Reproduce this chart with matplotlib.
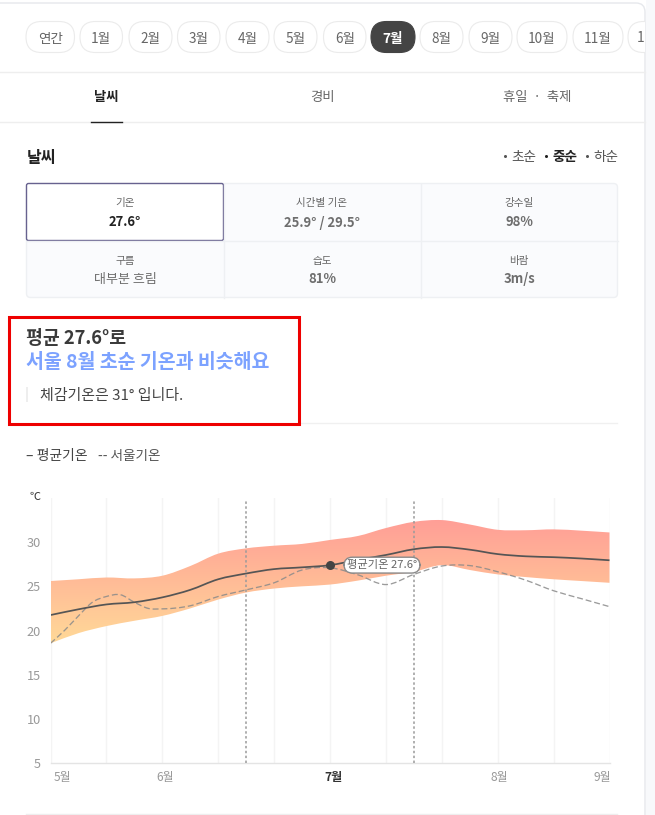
import numpy as np
import matplotlib
matplotlib.use("Agg")
import matplotlib.pyplot as plt
from matplotlib.path import Path
from matplotlib.patches import PathPatch, FancyBboxPatch, Rectangle
from matplotlib.transforms import ScaledTranslation
from matplotlib.colors import to_rgb

plt.rcParams['font.family'] = ['Noto Sans CJK KR', 'DejaVu Sans']

# ---- chart data ----
band_x = [0, .5, 1, 1.5, 2, 2.5, 3, 3.5, 4, 4.5, 5, 5.5, 6, 6.5, 7, 7.5, 8, 8.5, 9, 9.5, 10]
upper = [25.6, 25.8, 26.0, 25.9, 26.2, 27.3, 28.7, 29.3, 29.6, 29.8, 30.25, 30.7, 31.6, 32.3, 32.5, 32.0, 31.4, 31.35, 31.45, 31.3, 31.1]
lower = [18.55, 19.7, 20.5, 21.1, 21.65, 22.5, 23.5, 24.3, 24.75, 25.0, 25.2, 25.65, 26.2, 26.65, 27.4, 26.85, 26.35, 26.05, 25.8, 25.6, 25.4]
mean = [21.75, 22.4, 22.95, 23.2, 23.75, 24.6, 25.8, 26.45, 26.95, 27.15, 27.4, 28.0, 28.55, 29.2, 29.45, 29.15, 28.65, 28.4, 28.3, 28.15, 27.95]
seoul_x = [0, .25, .5, .75, 1, 1.25, 1.5, 1.75, 2, 2.5, 3, 3.5, 4, 4.5, 5, 5.5, 6, 6.5, 7, 7.5, 8, 8.5, 9, 9.5, 10]
seoul = [18.55, 20.0, 21.65, 23.2, 23.85, 24.05, 23.2, 22.5, 22.45, 22.8, 23.85, 24.6, 25.4, 26.85, 27.1, 26.3, 25.2, 26.35, 27.3, 27.35, 26.65, 25.7, 24.5, 23.6, 22.7]
month_pos = [0, 2, 5, 8, 10]
month_labels = ['5월', '6월', '7월', '8월', '9월']
y_ticks = [5, 10, 15, 20, 25, 30]
marker_x = 5
marker_y = 27.4
dashed_x = [3.5, 6.5]
tooltip = '평균기온 27.6°'

# ---- page content ----
tabs = ['연간', '1월', '2월', '3월', '4월', '5월', '6월', '7월', '8월', '9월', '10월', '11월']
tab_edges = [(26, 74.5), (80, 122.5), (129, 172), (177.5, 220), (226, 269), (274, 317), (323.5, 366),
             (371, 415), (420, 463), (469, 512), (517, 567), (573, 623)]
cells = [('기온', '27.6°'), ('시간별 기온', '25.9° / 29.5°'), ('강수일', '98%'),
         ('구름', '대부분 흐림'), ('습도', '81%'), ('바람', '3m/s')]


def smooth(x, y):
    """Bezier segments through the read values (the chart's own curve rendering)."""
    x, y = np.asarray(x, float), np.asarray(y, float)
    m = np.gradient(y, x)
    v = [(x[0], y[0])]
    for i in range(len(x) - 1):
        h = x[i + 1] - x[i]
        v += [(x[i] + h / 3, y[i] + m[i] * h / 3),
              (x[i + 1] - h / 3, y[i + 1] - m[i + 1] * h / 3),
              (x[i + 1], y[i + 1])]
    return v


def curve(x, y):
    v = smooth(x, y)
    return Path(v, [Path.MOVETO] + [Path.CURVE4] * (len(v) - 1))


fig = plt.figure(figsize=(6.55, 8.15), dpi=100, facecolor='white')
pg = fig.add_axes([0, 0, 1, 1])
pg.set_xlim(0, 655)
pg.set_ylim(815, 0)
pg.axis('off')

# card
pg.add_patch(Rectangle((645.5, 0), 10, 815, fc='#F8F9FB', ec='none'))
card = FancyBboxPatch((-30, 3), 675, 900, boxstyle='round,pad=0,rounding_size=9',
                      fc='white', ec='#E6E8EC', lw=1)
pg.add_patch(card)

# month pills
for name, (a, b) in zip(tabs, tab_edges):
    active = name == '7월'
    pg.add_patch(FancyBboxPatch((a, 21.5), b - a, 31, boxstyle='round,pad=0,rounding_size=15.5',
                                fc='#444444' if active else 'white',
                                ec='#444444' if active else '#EBEBEB', lw=0.8))
    pg.text((a + b) / 2, 38.5, name, ha='center', va='center',
            fontsize=9.8, color='white' if active else '#666666',
            fontweight='bold' if active else 'normal')
# the next pill runs off the card: only its left end and first digit show
last_pill = FancyBboxPatch((628, 21.5), 50, 31, boxstyle='round,pad=0,rounding_size=15.5',
                           fc='white', ec='#EBEBEB', lw=0.8)
pg.add_patch(last_pill)
last_pill.set_clip_path(Rectangle((0, 0), 645, 815, transform=pg.transData))
pg.text(641, 38.5, '1', ha='center', va='center', fontsize=9.8, color='#666666')

pg.plot([0, 645], [71.5, 71.5], color='#EEEEEE', lw=1)
pg.plot([0, 645], [121.5, 121.5], color='#EEEEEE', lw=1)
pg.plot([91, 122], [121.5, 121.5], color='#222222', lw=1)
pg.text(106.5, 97, '날씨', ha='center', va='center', fontsize=9.6, fontweight='bold', color='#222222')
pg.text(322, 97, '경비', ha='center', va='center', fontsize=9.6, color='#666666')
pg.text(537, 97, '휴일  ·  축제', ha='center', va='center', fontsize=9.6, color='#666666')

pg.text(26.5, 158, '날씨', ha='left', va='center', fontsize=11.5, fontweight='bold', color='#222222')
for x, s, w, c in [(505, '초순', 'normal', '#555555'), (546, '중순', 'bold', '#222222'), (587, '하순', 'normal', '#555555')]:
    pg.plot([x], [156], 'o', ms=2.2, color=c, mec='none')
    pg.text(x + 19, 156.5, s, ha='center', va='center', fontsize=9.8, fontweight=w, color=c)

# summary table
pg.add_patch(FancyBboxPatch((26.5, 183.5), 591, 114, boxstyle='round,pad=0,rounding_size=4',
                            fc='#FAFBFD', ec='#EEF0F3', lw=1))
pg.plot([223.5, 223.5], [183.5, 297.5], color='#EEF0F3', lw=1)
pg.plot([420.5, 420.5], [183.5, 297.5], color='#EEF0F3', lw=1)
pg.plot([26.5, 617.5], [240.5, 240.5], color='#EEF0F3', lw=1)
pg.add_patch(FancyBboxPatch((26.5, 183.5), 197, 57, boxstyle='round,pad=0,rounding_size=2',
                            fc='white', ec='#67628F', lw=1))
col_c = [125, 322, 519]
for i, (lab, val) in enumerate(cells):
    cx = col_c[i % 3]
    top = i < 3
    pg.text(cx, 203 if top else 261, lab, ha='center', va='center', fontsize=7.6, color='#666666')
    pg.text(cx, 222.5 if top else 279, val, ha='center', va='center',
            fontsize=9.4, color='#222222' if i == 0 else '#6E6E6E',
            fontweight='normal' if i == 3 else 'bold')

# highlighted text block
pg.plot([26, 617], [422.5, 422.5], color='#F0F0F0', lw=1)
pg.add_patch(Rectangle((8.5, 317), 290, 107, fc='white', ec='#EE0000', lw=2.2, zorder=3))
pg.text(26, 339, '평균 27.6°로', ha='left', va='center', fontsize=13.2, fontweight='bold', color='#3A3A3A', zorder=4)
pg.text(26, 362, '서울 8월 초순 기온과 비슷해요', ha='left', va='center', fontsize=14, fontweight='bold', color='#7CA2FF', zorder=4)
pg.add_patch(Rectangle((26, 387), 1.5, 15, fc='#EEEEEE', ec='none', zorder=4))
pg.text(40, 396, '체감기온은 31° 입니다.', ha='left', va='center', fontsize=10.8, color='#444444', zorder=4)

pg.text(26, 456, '– 평균기온', ha='left', va='center', fontsize=10, color='#444444')
pg.text(98, 456, '-- 서울기온', ha='left', va='center', fontsize=9.8, color='#555555')
pg.text(35.5, 497.5, '℃', ha='center', va='center', fontsize=8, color='#333333')
pg.plot([26, 617], [813.5, 813.5], color='#EEEEEE', lw=1)

# ---- chart ----
W, H = 655, 815
ax = fig.add_axes([50.5 / W, 1 - 763 / H, 559 / W, 265 / H])
ax.patch.set_alpha(0)
ax.set_xlim(0, 10)
ax.set_ylim(5, 35)
for s in ['top', 'left', 'right']:
    ax.spines[s].set_visible(False)
ax.spines['bottom'].set_color('#E4E4E4')
ax.spines['bottom'].set_linewidth(1)
for x in range(11):
    ax.axvline(x, color='#F4F4F4', lw=1, zorder=0)

up_v = smooth(band_x, upper)
lo_v = smooth(band_x, lower)[::-1]
verts = up_v + lo_v + [up_v[0]]
codes = [Path.MOVETO] + [Path.CURVE4] * (len(up_v) - 1) + [Path.LINETO] + [Path.CURVE4] * (len(lo_v) - 1) + [Path.CLOSEPOLY]
band = PathPatch(Path(verts, codes), fc='none', ec='none', transform=ax.transData)
ax.add_patch(band)
c_top, c_bot = np.array(to_rgb('#FF9E96')), np.array(to_rgb('#FFD998'))
g = np.linspace(0, 1, 256)[:, None, None]
img = c_top[None, None, :] * (1 - g) + c_bot[None, None, :] * g
im = ax.imshow(img, extent=[0, 10, min(lower), max(upper)], origin='upper', aspect='auto', zorder=1)
im.set_clip_path(band)
ax.set_xlim(0, 10)
ax.set_ylim(5, 35)

ax.add_patch(PathPatch(curve(seoul_x, seoul), fc='none', ec='#8A8A8A', lw=0.95, ls=(0, (4.5, 2.2)), alpha=.85, zorder=2))
ax.add_patch(PathPatch(curve(band_x, mean), fc='none', ec='#555555', lw=1.25, zorder=3))
for x in dashed_x:
    ax.plot([x, x], [5, 34.8], color='#9A9A9A', lw=1.1, ls=(0, (1.6, 1.6)), zorder=4)
ax.plot([marker_x], [marker_y], 'o', ms=6.5, color='#444444', mec='none', zorder=5)
ax.annotate(tooltip, xy=(marker_x, marker_y), xytext=(52, 0), textcoords='offset pixels',
            ha='center', va='center', fontsize=8.1, color='#666666', zorder=6,
            bbox=dict(boxstyle='round,pad=0.26,rounding_size=0.75', fc='white', ec='#8A8A8A', lw=1))

ax.set_yticks(y_ticks)
ax.set_xticks(month_pos, month_labels)
ax.tick_params(axis='both', length=0)
ax.tick_params(axis='y', labelsize=9.2, labelcolor='#999999', pad=7)
ax.tick_params(axis='x', labelsize=8.6, labelcolor='#999999', pad=6)
shifts = [3, 3, 3, 2, 1.5]
for lab, dx, ha in zip(ax.get_xticklabels(), shifts, ['left', 'center', 'center', 'center', 'right']):
    lab.set_ha(ha)
    lab.set_transform(lab.get_transform() + ScaledTranslation(dx / 100, 0, fig.dpi_scale_trans))
    if lab.get_text() == '7월':
        lab.set_color('#333333')
        lab.set_fontweight('bold')

fig.savefig('out.png', dpi=100)
